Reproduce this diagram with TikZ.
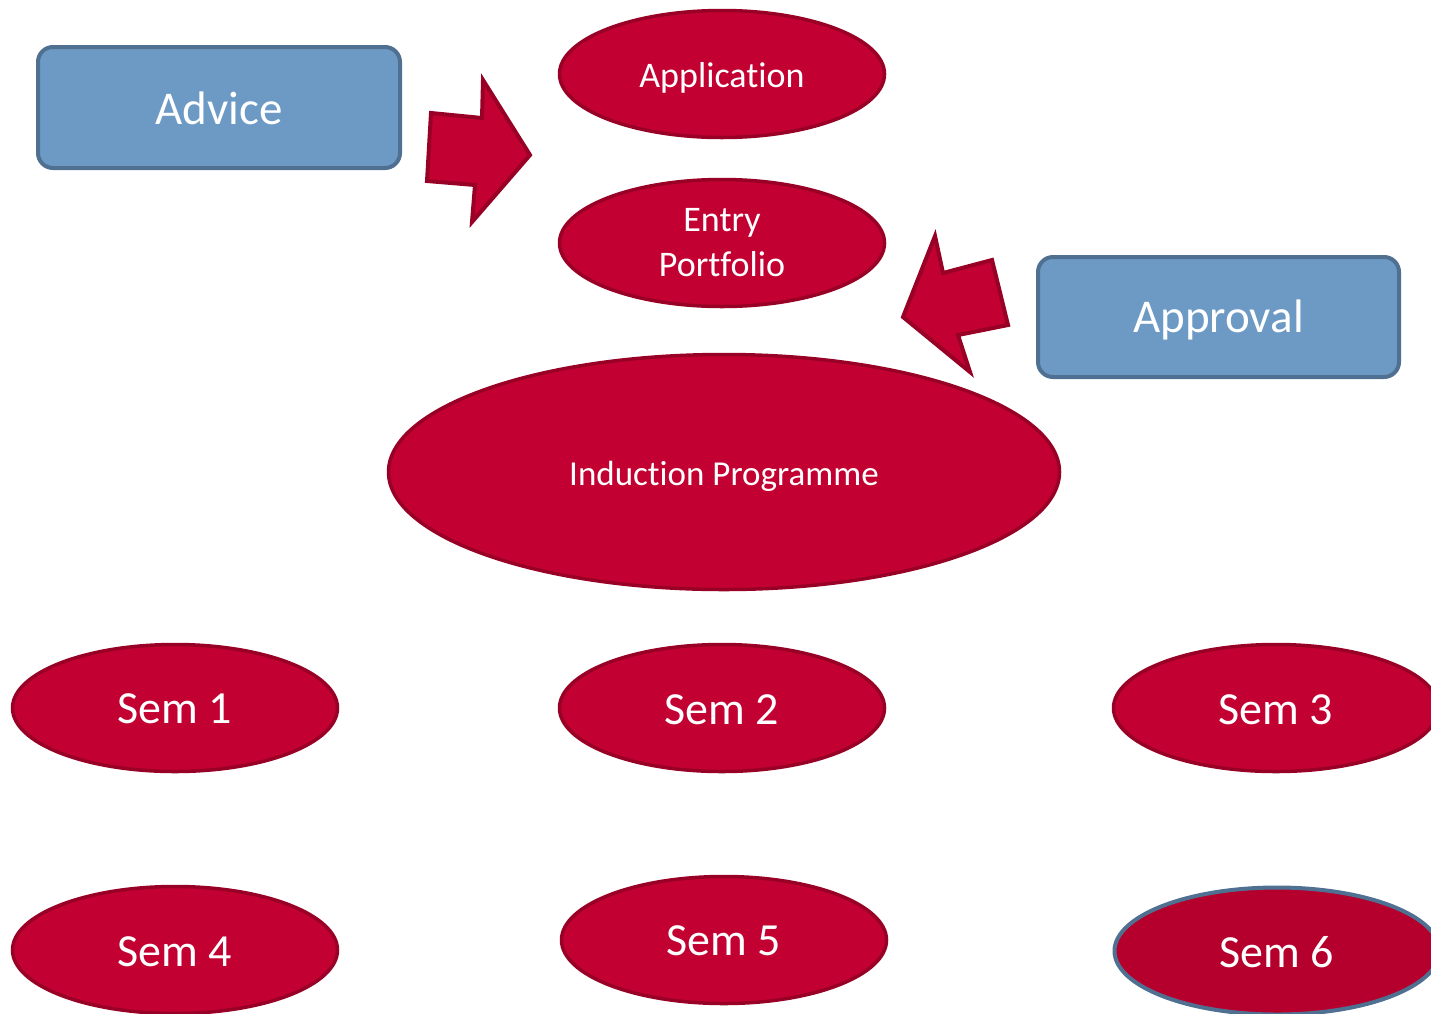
\documentclass[tikz,border=0pt]{standalone}
\usepackage{fontspec}
\setmainfont{Carlito}[RawFeature={-liga;-clig;-dlig;-calt}]
\usetikzlibrary{shapes.geometric}
\definecolor{boxfill}{RGB}{108,154,196}
\definecolor{boxline}{RGB}{80,112,145}
\definecolor{redfill}{RGB}{195,0,50}
\definecolor{redline}{RGB}{152,0,38}
\definecolor{darkred}{RGB}{181,0,45}
\newcommand{\lowr}[2]{\raisebox{-#1pt}[\height][\depth]{#2}}
\tikzset{
  bluebox/.style={draw=boxline, fill=boxfill, line width=4pt, rounded corners=15pt,
    text=white, inner sep=0pt, font=\fontsize{47}{56}\selectfont},
  oval/.style={ellipse, draw=redline, fill=redfill, line width=3.5pt, text=white,
    inner sep=0pt, minimum width=325pt, minimum height=127pt},
  semfont/.style={font=\fontsize{46}{55}\selectfont},
  midfont/.style={font=\fontsize{36}{45}\selectfont},
  blockarrow/.style={draw=redline, fill=redfill, line width=4pt, line join=miter}
}
\begin{document}
\begin{tikzpicture}[x=1pt,y=-1pt]
\useasboundingbox (0,0) rectangle (1431,1013);
\node[bluebox, minimum width=362pt, minimum height=121pt] (advice) at (219,107.5) {\lowr{1}{Advice}};
\node[bluebox, minimum width=361pt, minimum height=120pt] (approval) at (1218.5,317) {\lowr{3}{Approval}};
\node[oval, midfont] (application) at (722,74) {\lowr{4}{Application}};
\node[oval, midfont, align=center] (entry) at (722,243) {Entry\\Portfolio};
\node[oval, font=\fontsize{35}{42}\selectfont, minimum width=671pt, minimum height=235pt] (induction) at (724,472) {\lowr{4}{Induction Programme}};
\node[oval, semfont] (sem1) at (175,708) {\lowr{1}{Sem 1}};
\node[oval, semfont] (sem2) at (722,708) {\lowr{2}{Sem 2}};
\node[oval, semfont] (sem3) at (1276,708) {\lowr{2}{Sem 3}};
\node[oval, semfont] (sem4) at (175,950) {\lowr{2}{Sem 4}};
\node[oval, semfont] (sem5) at (724,940) {\lowr{1}{Sem 5}};
\node[oval, semfont, fill=darkred, draw=boxline, line width=4pt] (sem6) at (1277,951) {\lowr{1}{Sem 6}};
\draw[blockarrow] (431,113) -- (482,118) -- (483,80) -- (530,155) -- (472,222) -- (475,185) -- (427,181) -- cycle;
\draw[blockarrow] (935,236) -- (943,273) -- (992,260) -- (1008,325) -- (958,335) -- (970,372) -- (903,317) -- cycle;
\end{tikzpicture}
\end{document}
